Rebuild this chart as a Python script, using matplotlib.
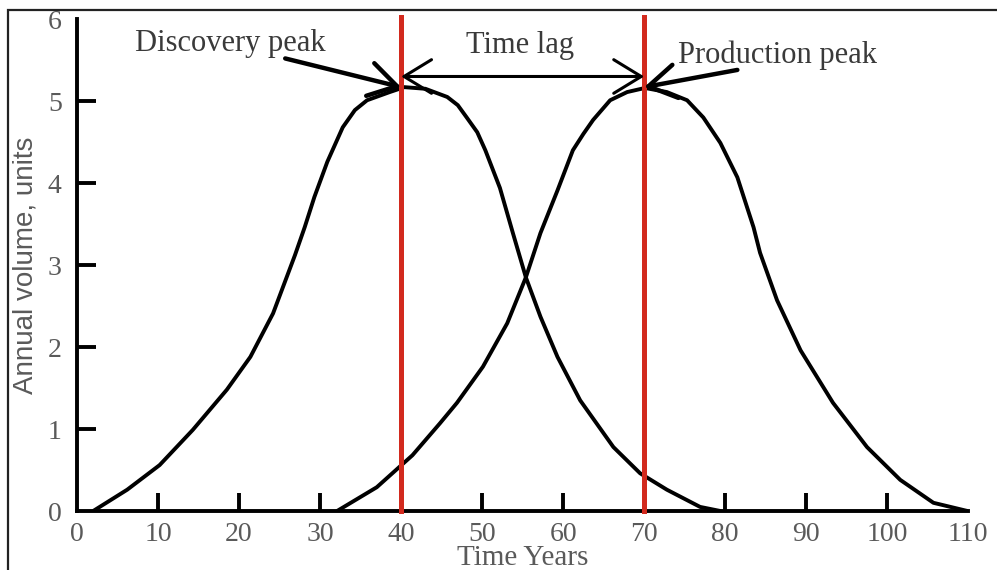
"""Discovery vs production peak curves with the time lag between them."""

import matplotlib
matplotlib.use("Agg")
import matplotlib.pyplot as plt
from matplotlib.patches import Rectangle

# ------------------------------------------------------------------
# Data
# ------------------------------------------------------------------
discovery_x = [2.0, 6.2, 10.2, 14.3, 18.5, 21.4, 24.2, 26.9, 28.1, 29.3,
               30.9, 32.8, 34.3, 35.8, 38.6, 40.4, 43.0, 45.7, 47.0, 48.1,
               49.4, 50.4, 52.2, 53.8, 55.4, 57.2, 59.3, 62.1, 66.2, 69.5,
               72.8, 76.9, 79.4]
discovery_y = [0.0, 0.26, 0.56, 0.99, 1.48, 1.88, 2.41, 3.12, 3.46, 3.83,
               4.26, 4.68, 4.89, 5.01, 5.11, 5.17, 5.15, 5.05, 4.95, 4.80,
               4.62, 4.40, 3.94, 3.39, 2.85, 2.37, 1.88, 1.35, 0.78, 0.46,
               0.26, 0.05, 0.0]

production_x = [32.1, 37.0, 41.4, 44.8, 46.9, 50.1, 53.1, 55.4, 57.2, 59.3,
                61.2, 62.5, 63.7, 65.8, 67.9, 70.1, 72.8, 75.3, 77.3, 79.4,
                81.5, 83.5, 84.3, 86.4, 89.3, 93.3, 97.5, 101.6, 105.7, 109.9]
production_y = [0.0, 0.29, 0.68, 1.07, 1.32, 1.76, 2.29, 2.85, 3.39, 3.91,
                4.40, 4.60, 4.77, 5.01, 5.11, 5.16, 5.11, 5.01, 4.80, 4.49,
                4.07, 3.46, 3.15, 2.57, 1.96, 1.32, 0.78, 0.38, 0.10, 0.0]

peak_years = [40, 70]          # red vertical markers
x_ticks = list(range(0, 111, 10))
y_ticks = list(range(0, 7))

TICK_GREY = "#5a5a5a"
TEXT_GREY = "#3a3a3a"
RED = "#d22a1e"
SERIF = "Liberation Serif"


fig = plt.figure(figsize=(9.97, 5.70), dpi=100)
ax = fig.add_axes([0.0772, 0.1035, 0.894, 0.863])

# outer frame of the original picture (runs off right and bottom edge)
fig.patches.append(Rectangle((8 / 997, -0.05), 1.2, 1 - 10 / 570 + 0.05,
                             transform=fig.transFigure, fill=False,
                             edgecolor="#222222", linewidth=1.6))

for xs, ys in ((discovery_x, discovery_y), (production_x, production_y)):
    ax.plot(xs, ys, color="black", linewidth=2.8,
            solid_capstyle="round", solid_joinstyle="round")

for yr in peak_years:
    ax.plot([yr, yr], [0, 6.02], color=RED, linewidth=3.6, clip_on=False,
            zorder=3)

ax.set_xlim(0, 110)
ax.set_ylim(0, 6)
ax.set_xticks(x_ticks)
ax.set_yticks(y_ticks)

for side in ("top", "right"):
    ax.spines[side].set_visible(False)
for side in ("left", "bottom"):
    ax.spines[side].set_linewidth(2.8)

ax.tick_params(axis="both", direction="in", width=2.8, color="black",
               labelcolor=TICK_GREY, labelsize=20)
ax.tick_params(axis="x", length=13, pad=8)
ax.tick_params(axis="y", length=14, pad=11)
for lbl in ax.get_xticklabels() + ax.get_yticklabels():
    lbl.set_family(SERIF)
for axis in (ax.xaxis, ax.yaxis):
    ticks = axis.get_major_ticks()
    ticks[0].tick1line.set_visible(False)
    ticks[-1].tick1line.set_visible(False)

ax.set_xlabel("Time Years", family=SERIF, fontsize=21, color=TICK_GREY,
              va="baseline")
ax.xaxis.set_label_coords(0.5, (511 - 565) / 492)
ax.set_ylabel("Annual volume, units", family="Liberation Sans", fontsize=20,
              color=TICK_GREY, va="center")
ax.yaxis.set_label_coords(-51 / 891, 0.5)

# ------------------------------------------------------------------
# Annotations
# ------------------------------------------------------------------
arrow_kw = dict(arrowstyle="->,head_length=0.9,head_width=0.55",
                color="black", lw=3.2, mutation_scale=22,
                shrinkA=0, shrinkB=0)
peak_level = max(discovery_y)

ax.annotate("", xy=(peak_years[0], peak_level), xytext=(25.7, 5.52),
            arrowprops=arrow_kw, annotation_clip=False)
ax.text(7.2, 5.70, "Discovery peak", family=SERIF, fontsize=22,
        color=TEXT_GREY, va="center", ha="left")

ax.annotate("", xy=(peak_years[1], peak_level), xytext=(81.5, 5.38),
            arrowprops=arrow_kw, annotation_clip=False)
ax.text(74.2, 5.56, "Production peak", family=SERIF, fontsize=22,
        color=TEXT_GREY, va="center", ha="left")

lag_kw = dict(arrow_kw)
lag_kw["arrowstyle"] = "<->,head_length=0.9,head_width=0.55"
lag_kw["lw"] = 2.2
ax.annotate("", xy=(peak_years[1], 5.3), xytext=(peak_years[0], 5.3),
            arrowprops=lag_kw, annotation_clip=False)
ax.text(54.7, 5.68, "Time lag", family=SERIF, fontsize=22,
        color=TEXT_GREY, va="center", ha="center")

fig.savefig("out.png", dpi=100)
